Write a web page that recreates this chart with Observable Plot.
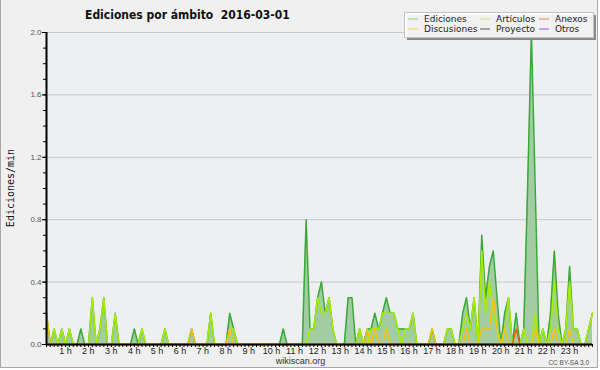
<!DOCTYPE html>
<html>
<head>
<meta charset="utf-8">
<script src="https://cdn.jsdelivr.net/npm/d3@7"></script>
<script src="https://cdn.jsdelivr.net/npm/@observablehq/plot@0.6"></script>
<style>
  html, body { margin: 0; padding: 0; background: #ffffff; }
  #page { position: relative; width: 600px; height: 370px; }
  #bg { position: absolute; left: 0; top: 0; width: 596px; height: 367px; background: #f0f0f0;
        border-left: 1px solid #a8a8a8; border-right: 1px solid #a8a8a8; border-bottom: 1px solid #a8a8a8; }
  #chart, #overlay { position: absolute; left: 0; top: 0; }
  #overlay { pointer-events: none; }
</style>
</head>
<body>
<div id="page">
  <div id="bg"></div>
  <div id="chart"></div>
  <svg id="overlay" width="600" height="370"></svg>
</div>
<script>
// ---- data: edits per minute, 10-minute bins (144 per day) ----
const total = [
  0.2,0,0.1,0,0.1,0,0.1,0,0,0.1,0,0,
  0.3,0,0.1,0.3,0,0,0.2,0,0,0,0,0.1,
  0,0.1,0,0,0,0,0,0.1,0,0,0,0,
  0,0,0.1,0,0,0,0,0.2,0,0,0,0,
  0.2,0.1,0,0,0,0,0,0,0,0,0,0,
  0,0,0.1,0,0,0,0,0,0.8,0.1,0.1,0.3,
  0.4,0.2,0.3,0.1,0,0,0,0.3,0.3,0,0.1,0,
  0.1,0.1,0.2,0.1,0.2,0.3,0.2,0.2,0.1,0.1,0.1,0.1,
  0.2,0,0,0,0,0.1,0,0,0,0.1,0.1,0,
  0,0.2,0.3,0.1,0.3,0,0.7,0.3,0.5,0.6,0.3,0,
  0.2,0.3,0,0.2,0,0.1,1.0,2.0,1.0,0,0.1,0,
  0.2,0.6,0.2,0,0.1,0.5,0.1,0.1,0,0,0.1,0.2
];
const articulos = [
  0,0,0.1,0,0.1,0,0.1,0,0,0,0,0,
  0.3,0,0.1,0.3,0,0,0.2,0,0,0,0,0,
  0,0.1,0,0,0,0,0,0.1,0,0,0,0,
  0,0,0,0,0,0,0,0.2,0,0,0,0,
  0.1,0.1,0,0,0,0,0,0,0,0,0,0,
  0,0,0,0,0,0,0,0,0,0.1,0.1,0.3,
  0.2,0.2,0.3,0.1,0,0,0,0,0,0,0.1,0,
  0,0.1,0.1,0.1,0.2,0.2,0.2,0.2,0.1,0,0.1,0.1,
  0.2,0,0,0,0,0,0,0,0,0.1,0.1,0,
  0,0.1,0.2,0.1,0.3,0,0.6,0.2,0.4,0.2,0.1,0,
  0.1,0.3,0,0,0,0.1,0,0,0.2,0,0.1,0,
  0.1,0.4,0.1,0,0.1,0.4,0.1,0.1,0,0,0.1,0.2
];
const discusiones = [
  0.2,0,0,0,0,0,0,0,0,0,0,0,
  0,0,0,0,0,0,0,0,0,0,0,0,
  0,0,0,0,0,0,0,0,0,0,0,0,
  0,0,0.1,0,0,0,0,0,0,0,0,0,
  0.1,0,0,0,0,0,0,0,0,0,0,0,
  0,0,0,0,0,0,0,0,0,0,0,0,
  0,0,0,0,0,0,0,0,0,0,0,0,
  0.1,0,0.1,0,0,0.1,0,0,0,0,0,0,
  0,0,0,0,0,0.1,0,0,0,0,0,0,
  0,0,0.1,0,0,0,0.1,0.1,0.1,0.3,0.1,0,
  0.1,0,0,0,0,0,0,0,0.1,0,0,0,
  0,0.1,0,0,0,0.1,0,0,0,0,0,0
];
const anexos = [
  0,0,0,0,0,0,0,0,0,0,0,0,
  0,0,0,0,0,0,0,0,0,0,0,0,
  0,0,0,0,0,0,0,0,0,0,0,0,
  0,0,0,0,0,0,0,0,0,0,0,0,
  0,0,0,0,0,0,0,0,0,0,0,0,
  0,0,0,0,0,0,0,0,0,0,0,0,
  0,0,0,0,0,0,0,0,0,0,0,0,
  0,0,0,0,0,0,0,0,0,0,0,0,
  0,0,0,0,0,0,0,0,0,0,0,0,
  0,0,0,0,0,0,0,0,0,0,0,0,
  0,0,0,0.1,0,0,0,0,0,0,0,0,
  0,0,0,0,0,0,0,0,0,0,0,0
];
const hourLabels = ["1 h","2 h","3 h","4 h","5 h","6 h","7 h","8 h","9 h","10 h","11 h","12 h",
  "13 h","14 h","15 h","16 h","17 h","18 h","19 h","20 h","21 h","22 h","23 h"];
const yMajor = [0, 0.4, 0.8, 1.2, 1.6, 2.0];
const yMinor = [0,0.1,0.2,0.3,0.4,0.5,0.6,0.7,0.8,0.9,1.0,1.1,1.2,1.3,1.4,1.5,1.6,1.7,1.8,1.9,2.0];
const legendItems = [
  ["Ediciones", "#8fd08f"], ["Artículos", "#cdee66"], ["Anexos", "#ee8855"],
  ["Discusiones", "#ffd04a"], ["Proyecto", "#555555"], ["Otros", "#9955ee"]
];

const data = total.map((t, i) => ({i, total: t, art: articulos[i], disc: discusiones[i], anx: anexos[i]}));
const binTicks = data.map(d => d.i);
const hourTicks = hourLabels.map((_, k) => (k + 1) * 6);

const chart = Plot.plot({
  width: 600, height: 370,
  marginLeft: 46, marginRight: 8, marginTop: 32, marginBottom: 26,
  style: {background: "transparent", fontFamily: "'Liberation Sans', Arial, sans-serif"},
  x: {domain: [0, 143], axis: null},
  y: {domain: [0, 2], axis: null},
  marks: [
    Plot.frame({fill: "#eeeff1", stroke: "none"}),
    Plot.gridY(yMajor, {stroke: "#c8c8c8", strokeOpacity: 1}),
    Plot.areaY(data, {x: "i", y: "total", fill: "#a2cda2"}),
    Plot.lineY(data, {x: "i", y: "total", stroke: "#3aa83a", strokeWidth: 1.5}),
    Plot.lineY(data, {x: "i", y: "art", stroke: "#a8ec00", strokeWidth: 1.5}),
    Plot.lineY(data, {x: "i", y: "disc", stroke: "#ffc200", strokeWidth: 1.3}),
    Plot.lineY(data, {x: "i", y: "anx", stroke: "#ff5500", strokeWidth: 1.3}),
    Plot.ruleX([0], {stroke: "#000", strokeWidth: 2}),
    Plot.ruleY([0], {stroke: "#000", strokeWidth: 2}),
    Plot.axisY(yMinor, {tickSize: 3, tickFormat: () => "", stroke: "#000", label: null}),
    Plot.axisY(yMajor, {tickSize: 4, tickPadding: 1, tickFormat: d => d.toFixed(1), fill: "#555", stroke: "#000", fontSize: 8, label: null}),
    Plot.axisX(binTicks, {tickSize: 3, tickFormat: () => "", stroke: "#000", label: null}),
    Plot.axisX(hourTicks, {tickSize: 0, tickPadding: 3, tickFormat: i => hourLabels[i / 6 - 1], fill: "#222", fontSize: 9, dx: -4, label: null})
  ]
});
document.getElementById("chart").appendChild(chart);

// ---- overlay texts and legend ----
const ov = d3.select("#overlay");
ov.append("text").attr("x", 85).attr("y", 18.5)
  .attr("font-family", "'DejaVu Sans Condensed','DejaVu Sans'").attr("font-stretch", "condensed")
  .attr("font-weight", "bold").attr("font-size", 12).attr("fill", "#111")
  .style("white-space", "pre").text("Ediciones por ámbito  2016-03-01");
ov.append("text").attr("transform", "translate(13.5,188) rotate(-90)")
  .attr("text-anchor", "middle").attr("font-family", "'DejaVu Sans Mono'").attr("font-size", 10)
  .attr("fill", "#111").text("Ediciones/min");
ov.append("text").attr("x", 300.5).attr("y", 364).attr("text-anchor", "middle")
  .attr("font-family", "'Liberation Sans'").attr("font-size", 9).attr("fill", "#333").text("wikiscan.org");
ov.append("text").attr("x", 589).attr("y", 365).attr("text-anchor", "end")
  .attr("font-family", "'Liberation Sans'").attr("font-size", 6.5).attr("fill", "#555").text("CC BY-SA 3.0");

const lg = ov.append("g");
lg.append("rect").attr("x", 407).attr("y", 15).attr("width", 189).attr("height", 25).attr("fill", "#8a8a8a");
lg.append("rect").attr("x", 404.5).attr("y", 12.5).attr("width", 189).attr("height", 25)
  .attr("fill", "rgba(255,255,255,0.88)").attr("stroke", "#c4c4c4");
const colX = [408, 480, 539];
const rowY = [19, 29];
legendItems.forEach(([name, color], k) => {
  const c = k % 3, r = Math.floor(k / 3);
  lg.append("line").attr("x1", colX[c]).attr("x2", colX[c] + 10).attr("y1", rowY[r]).attr("y2", rowY[r])
    .attr("stroke", color).attr("stroke-width", 1);
  lg.append("text").attr("x", colX[c] + 16).attr("y", rowY[r] + 3)
    .attr("font-family", "'DejaVu Sans'").attr("font-size", 9).attr("fill", "#222").text(name);
});
</script>
</body>
</html>
